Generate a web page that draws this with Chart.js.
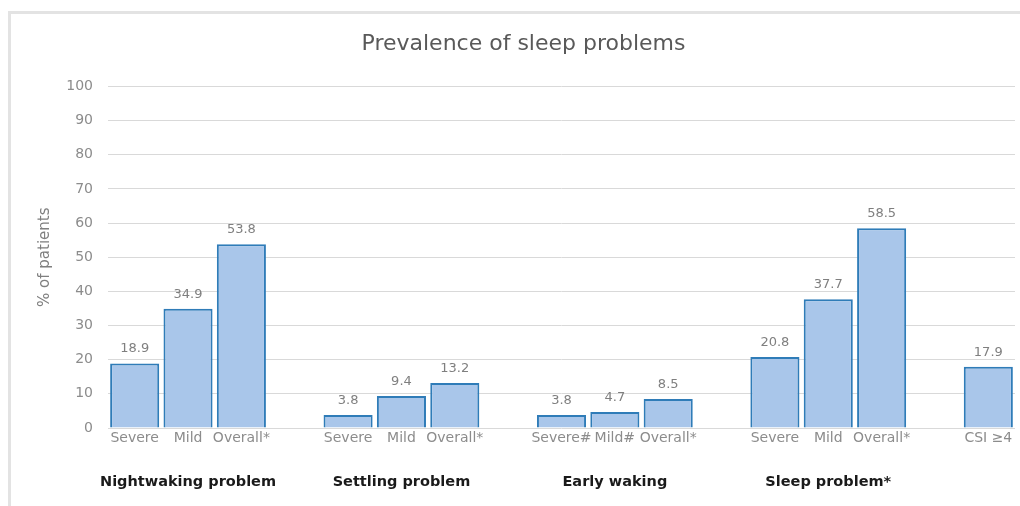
<!DOCTYPE html>
<html>
<head>
<meta charset="utf-8">
<script src="https://cdn.jsdelivr.net/npm/chart.js@4.4.1/dist/chart.umd.min.js"></script>
<style>
  html, body { margin: 0; padding: 0; background: #fff; }
  #wrap { position: relative; width: 1020px; height: 506px; }
  #frame {
    position: absolute; left: 8px; top: 11px; right: 0; bottom: 0;
    border-top: 3px solid #e3e3e3; border-left: 3px solid #e3e3e3;
    pointer-events: none;
  }
</style>
</head>
<body>
<div id="wrap">
  <canvas id="chart" width="1020" height="506"></canvas>
  <div id="frame"></div>
</div>
<script>
// chart data
const categories = ["Severe", "Mild", "Overall*", "", "Severe", "Mild", "Overall*", "", "Severe#", "Mild#", "Overall*", "", "Severe", "Mild", "Overall*", "", "CSI \u22654"];
const values = [18.9, 34.9, 53.8, null, 3.8, 9.4, 13.2, null, 3.8, 4.7, 8.5, null, 20.8, 37.7, 58.5, null, 17.9];
const groupLabels = ["", "Nightwaking problem", "", "", "", "Settling problem", "", "", "", "Early waking", "", "", "", "Sleep problem*", "", "", ""];
const yTicks = [0, 10, 20, 30, 40, 50, 60, 70, 80, 90, 100];

const FONT = "'DejaVu Sans', sans-serif";

// Draw value labels above each bar
const valueLabels = {
  id: "valueLabels",
  afterDatasetsDraw(chart) {
    const ctx = chart.ctx;
    const meta = chart.getDatasetMeta(0);
    ctx.save();
    ctx.font = "13px " + FONT;
    ctx.fillStyle = "#7f7f7f";
    ctx.textAlign = "center";
    ctx.textBaseline = "alphabetic";
    meta.data.forEach((bar, i) => {
      const v = values[i];
      if (v == null) return;
      ctx.fillText(v.toFixed(1), bar.x, bar.y - 11);
    });
    ctx.restore();
  }
};

new Chart(document.getElementById("chart"), {
  type: "bar",
  data: {
    labels: categories,
    datasets: [{
      data: values,
      backgroundColor: "#a9c6ea",
      borderColor: "#2f7cb8",
      borderWidth: 2,
      barPercentage: 0.92,
      categoryPercentage: 1
    }]
  },
  options: {
    responsive: false,
    animation: false,
    layout: { padding: { left: 32, right: 5, top: 0, bottom: 14 } },
    plugins: {
      legend: { display: false },
      tooltip: { enabled: false },
      title: {
        display: true,
        text: "Prevalence of sleep problems",
        color: "#595959",
        font: { family: FONT, size: 22, weight: "normal" },
        padding: { top: 31, bottom: 29 }
      }
    },
    scales: {
      x: {
        grid: { display: false, drawTicks: false },
        border: { display: false },
        afterFit(scale) {
          scale.height = 20;
        },
        ticks: {
          color: "#8c8c8c",
          font: { family: FONT, size: 14 },
          autoSkip: false,
          maxRotation: 0,
          padding: 2
        }
      },
      x2: {
        type: "category",
        labels: groupLabels,
        position: "bottom",
        offset: true,
        grid: { display: false, drawTicks: false },
        border: { display: false },
        afterFit(scale) {
          scale.height = 44;
        },
        ticks: {
          color: "#1a1a1a",
          font: { family: FONT, size: 14.5, weight: "bold" },
          autoSkip: false,
          maxRotation: 0,
          padding: 26
        }
      },
      y: {
        min: 0,
        max: 100,
        afterBuildTicks(scale) {
          scale.ticks = yTicks.map((v) => ({ value: v }));
        },
        afterFit(scale) {
          scale.width = 76;
        },
        grid: { color: "#d9d9d9", lineWidth: 1, drawTicks: false },
        border: { display: false },
        ticks: {
          color: "#8c8c8c",
          font: { family: FONT, size: 14 },
          padding: 15
        },
        title: {
          display: true,
          text: "% of patients",
          color: "#7f7f7f",
          font: { family: FONT, size: 15 },
          padding: { top: 4, bottom: 0 }
        }
      }
    }
  },
  plugins: [valueLabels]
});
</script>
</body>
</html>
